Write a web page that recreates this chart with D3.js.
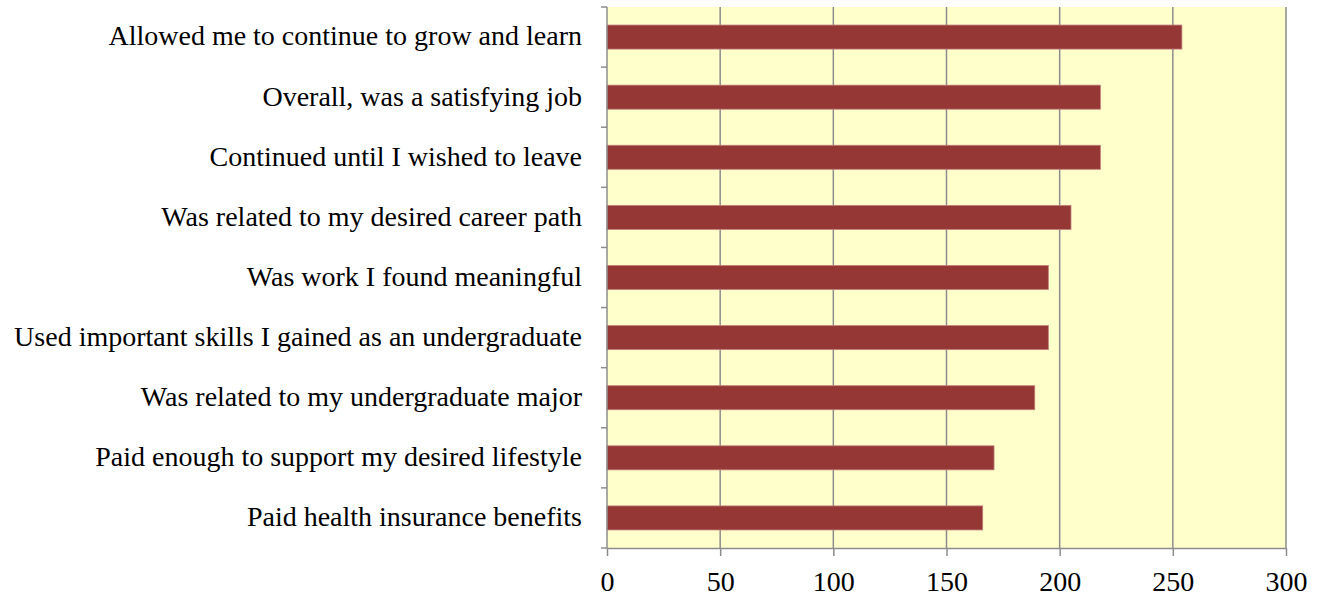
<!DOCTYPE html>
<html>
<head>
<meta charset="utf-8">
<script src="https://cdn.jsdelivr.net/npm/d3@7"></script>
<style>
    body { margin: 0; background: #fff; }
    svg text { font-family: "Liberation Serif", "DejaVu Serif", serif; fill: #000; }
</style>
</head>
<body>
<div id="chart"></div>
<script>
var categories = [
    "Allowed me to continue to grow and learn",
    "Overall, was a satisfying job",
    "Continued until I wished to leave",
    "Was related to my desired career path",
    "Was work I found meaningful",
    "Used important skills I gained as an undergraduate",
    "Was related to my undergraduate major",
    "Paid enough to support my desired lifestyle",
    "Paid health insurance benefits"
];
var counts = [254, 218, 218, 205, 195, 195, 189, 171, 166];
var xTicks = [0, 50, 100, 150, 200, 250, 300];

var width = 1320,
    height = 597,
    margin = { top: 7, right: 34, bottom: 49, left: 607 },
    plotW = width - margin.left - margin.right,
    plotH = height - margin.top - margin.bottom;

var svg = d3.select("#chart").append("svg")
    .attr("width", width)
    .attr("height", height);

var g = svg.append("g")
    .attr("transform", "translate(" + margin.left + "," + margin.top + ")");

var x = d3.scaleLinear().domain([0, 300]).range([0, plotW]);
var y = d3.scaleBand().domain(categories).range([0, plotH]).paddingInner(0.6).paddingOuter(0.3);
var yEdges = d3.scaleLinear().domain([0, categories.length]).range([0, plotH]);

// plot background
g.append("rect")
    .attr("width", plotW)
    .attr("height", plotH)
    .attr("fill", "#ffffcc");

// vertical gridlines
g.selectAll(".grid")
    .data(xTicks.slice(1))
    .enter().append("line")
    .attr("x1", function (d) { return x(d); })
    .attr("x2", function (d) { return x(d); })
    .attr("y1", 0)
    .attr("y2", plotH)
    .attr("stroke", "#8c8c8c")
    .attr("stroke-width", 1.5);

// bars
g.selectAll(".bar")
    .data(counts)
    .enter().append("rect")
    .attr("x", x(0))
    .attr("y", function (d, i) { return y(categories[i]); })
    .attr("width", function (d) { return x(d) - x(0); })
    .attr("height", y.bandwidth())
    .attr("fill", "#953735")
    .attr("stroke", "#c0807c")
    .attr("stroke-width", 0.8);

// x axis
var xAxis = g.append("g")
    .attr("transform", "translate(0," + plotH + ")")
    .call(d3.axisBottom(x).tickValues(xTicks).tickSize(8).tickPadding(15).tickSizeOuter(0));
xAxis.select(".domain").attr("stroke", "#8c8c8c").attr("stroke-width", 1.5);
xAxis.selectAll(".tick line").attr("stroke", "#8c8c8c").attr("stroke-width", 1.5);
xAxis.selectAll("text").attr("font-size", 28).attr("fill", "#000")
    .style("font-family", "'Liberation Serif', 'DejaVu Serif', serif");

// y axis line + ticks at band edges
g.append("line")
    .attr("x1", 0).attr("x2", 0)
    .attr("y1", 0).attr("y2", plotH)
    .attr("stroke", "#8c8c8c").attr("stroke-width", 1.5);
g.selectAll(".ytick")
    .data(d3.range(categories.length + 1))
    .enter().append("line")
    .attr("x1", -6).attr("x2", 0)
    .attr("y1", function (d) { return yEdges(d); })
    .attr("y2", function (d) { return yEdges(d); })
    .attr("stroke", "#8c8c8c").attr("stroke-width", 1.5);

// category labels
g.selectAll(".label")
    .data(categories)
    .enter().append("text")
    .attr("x", -25)
    .attr("y", function (d) { return y(d) + y.bandwidth() / 2; })
    .attr("dy", "0.3em")
    .attr("text-anchor", "end")
    .attr("font-size", 28)
    .text(function (d) { return d; });
</script>
</body>
</html>
